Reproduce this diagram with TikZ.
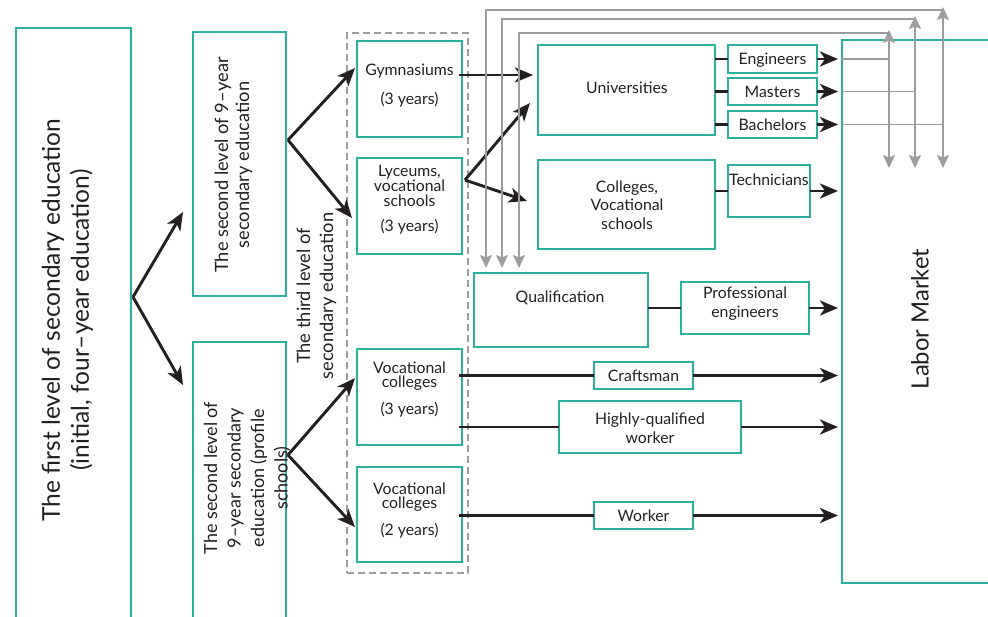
\documentclass[tikz,border=0pt]{standalone}
\usepackage{fontspec}
\setmainfont{Lato}
\usetikzlibrary{arrows.meta}
\definecolor{teal1}{RGB}{43,176,158}
\definecolor{ink}{HTML}{231F20}
\definecolor{grayl}{HTML}{9D9D9F}
\tikzset{
  box/.style={draw=teal1, line width=1.3pt, inner sep=0pt, outer sep=0pt},
  txt/.style={inner sep=0pt, text=ink, align=center, font=\fontsize{15.8pt}{14.6pt}\selectfont},
  arr/.style={draw=ink, line width=2.9pt, -{Stealth[length=18pt,width=15pt,inset=5pt]}},
  lnk/.style={draw=ink, line width=2.9pt},
  gline/.style={draw=grayl, line width=1.8pt},
  garr/.style={draw=grayl, line width=1.8pt, -{Stealth[length=13pt,width=12pt,inset=2.5pt]}},
  gdbl/.style={draw=grayl, line width=1.8pt, {Stealth[length=13pt,width=12pt,inset=2.5pt]}-{Stealth[length=13pt,width=12pt,inset=2.5pt]}},
}
\begin{document}
\begin{tikzpicture}[x=1pt,y=-1pt]
\useasboundingbox (0,0) rectangle (988,616);
\clip (0,0) rectangle (988,616);
% left boxes
\node[box, minimum width=115pt, minimum height=622pt] (first) at (73.5,339) {};
\node[txt, rotate=90, font=\fontsize{24.5pt}{29pt}\selectfont] (firstt) at (67.5,320) {The first level of secondary education\\(initial, four–year education)};
\node[box, minimum width=93pt, minimum height=264pt] (sec1) at (239.5,164) {};
\node[txt, rotate=90, font=\fontsize{18.3pt}{21pt}\selectfont] (sec1t) at (233.5,165) {The second level of 9–year\\secondary education};
\node[box, minimum width=93pt, minimum height=308pt] (sec2) at (239.5,496) {};
\node[txt, rotate=90, font=\fontsize{18pt}{23.5pt}\selectfont] (sec2t) at (247,478) {The second level of\\9–year secondary\\education (profile\\schools)};
\node[txt, rotate=90, font=\fontsize{18.3pt}{23pt}\selectfont] (thirdt) at (316.5,296) {The third level of\\secondary education};
% dashed group
\node[draw=grayl, line width=2pt, dash pattern=on 7pt off 4pt, minimum width=121pt, minimum height=540pt, inner sep=0pt] (grp) at (407.5,303) {};
\node[box, minimum width=105pt, minimum height=96pt] (gym) at (409.5,89) {};
\node[txt] (gymt) at (409.5,86) {Gymnasiums\\[13pt](3 years)};
\node[box, minimum width=105pt, minimum height=96pt] (lyc) at (409.5,206) {};
\node[txt] (lyct) at (409.5,200) {Lyceums,\\vocational\\schools\\[11pt](3 years)};
\node[box, minimum width=105pt, minimum height=96pt] (vc3) at (409.5,397) {};
\node[txt] (vc3t) at (409.5,389.5) {Vocational\\colleges\\[11pt](3 years)};
\node[box, minimum width=105pt, minimum height=95pt] (vc2) at (409.5,514.5) {};
\node[txt] (vc2t) at (409.5,510.5) {Vocational\\colleges\\[11pt](2 years)};
% middle
\node[box, minimum width=177pt, minimum height=90pt] (uni) at (626.5,90) {};
\node[txt] (unit) at (627,88) {Universities};
\node[box, minimum width=177pt, minimum height=89pt] (col) at (626.5,204.5) {};
\node[txt, font=\fontsize{15.8pt}{18.5pt}\selectfont] (colt) at (627,205) {Colleges,\\Vocational\\schools};
\node[box, minimum width=174pt, minimum height=74pt] (qual) at (561,310) {};
\node[txt] (qualt) at (560,298) {Qualification};
% right small boxes
\node[box, minimum width=89pt, minimum height=28pt] (eng) at (772.5,59) {};
\node[txt] (engt) at (772.5,60) {Engineers};
\node[box, minimum width=89pt, minimum height=27pt] (mas) at (772.5,91.5) {};
\node[txt] (mast) at (772.5,92) {Masters};
\node[box, minimum width=89pt, minimum height=27pt] (bac) at (772.5,124.5) {};
\node[txt] (bact) at (772.5,124.5) {Bachelors};
\node[box, minimum width=82pt, minimum height=52pt] (tech) at (769,191) {};
\node[txt] (techt) at (769,180) {Technicians};
\node[box, minimum width=128pt, minimum height=52pt] (prof) at (745,308) {};
\node[txt, font=\fontsize{15.8pt}{19pt}\selectfont] (proft) at (745,303.5) {Professional\\engineers};
\node[box, minimum width=99pt, minimum height=27pt] (craft) at (643.5,375.5) {};
\node[txt] (craftt) at (643.5,376) {Craftsman};
\node[box, minimum width=182pt, minimum height=52pt] (hq) at (650,427) {};
\node[txt, font=\fontsize{15.8pt}{19pt}\selectfont] (hqt) at (650,428.5) {Highly-qualified\\worker};
\node[box, minimum width=99pt, minimum height=27pt] (work) at (643.5,515.5) {};
\node[txt] (workt) at (643.5,516) {Worker};
% labor market
\node[box, minimum width=158pt, minimum height=543pt] (labor) at (921,311.5) {};
\node[txt, rotate=90, font=\fontsize{23.8pt}{25pt}\selectfont] (labort) at (920,319) {Labor Market};
% black arrows left
\coordinate (v1) at ([xshift=2pt,yshift=42pt]first.east);
\draw[arr] (v1) -- ([xshift=-10pt,yshift=-48pt]sec1.west);
\draw[arr] (v1) -- ([xshift=-10pt,yshift=111pt]sec2.west);
\coordinate (v2) at ([xshift=2pt,yshift=24pt]sec1.east);
\draw[arr] (v2) -- ([xshift=-2pt,yshift=21pt]gym.west);
\draw[arr] (v2) -- ([xshift=-5pt,yshift=-12pt]lyc.west);
\coordinate (v3) at ([xshift=2pt,yshift=41pt]sec2.east);
\draw[arr] (v3) -- ([xshift=-2pt,yshift=19pt]vc3.west);
\draw[arr] (v3) -- ([xshift=-2pt,yshift=-12.5pt]vc2.west);
\draw[arr] ([xshift=-3pt,yshift=14pt]gym.east) -- ([xshift=-5pt,yshift=15pt]uni.west);
\coordinate (v4) at ([xshift=3pt,yshift=26pt]lyc.east);
\draw[arr] (v4) -- ([xshift=-8pt,yshift=-13pt]uni.west);
\draw[arr] (v4) -- ([xshift=-11pt,yshift=3.5pt]col.west);
% links to right boxes
\draw[lnk] (eng.west -| uni.east) -- (eng.west);
\draw[lnk] (mas.west -| uni.east) -- (mas.west);
\draw[lnk] (bac.west -| uni.east) -- (bac.west);
\draw[lnk] (tech.west -| col.east) -- (tech.west);
\draw[lnk] (prof.west -| qual.east) -- (prof.west);
\draw[lnk] ([xshift=-3pt]craft.west -| vc3.east) -- (craft.west);
\draw[lnk] ([xshift=-3pt]hq.west -| vc3.east) -- (hq.west);
\draw[lnk] ([xshift=-3pt]work.west -| vc2.east) -- (work.west);
\foreach \b in {eng,mas,bac,tech,prof,craft,hq,work}
  \draw[arr, shorten >=4pt] (\b.east) -- (\b.east -| labor.west);
% gray feedback lines
\coordinate (gA) at (889,30);
\coordinate (gB) at (915,16);
\coordinate (gC) at (943,7);
\coordinate (gAb) at (889,168);
\coordinate (gBb) at (915,168);
\coordinate (gCb) at (943,168);
\draw[gdbl] (gA) -- (gAb);
\draw[gdbl] (gB) -- (gBb);
\draw[gdbl] (gC) -- (gCb);
\coordinate (qa) at ([xshift=12pt,yshift=5pt]qual.north west);
\coordinate (qb) at ([xshift=28pt,yshift=5pt]qual.north west);
\coordinate (qc) at ([xshift=45pt,yshift=5pt]qual.north west);
\draw[garr] ([yshift=-3pt]gC) -| (qa);
\draw[garr] ([yshift=-3pt]gB) -| (qb);
\draw[garr] ([yshift=-3pt]gA) -| (qc);
\draw[gline] (eng.east -| labor.west) -- (eng.east -| gA);
\draw[gline] (mas.east -| labor.west) -- (mas.east -| gB);
\draw[gline] (bac.east -| labor.west) -- (bac.east -| gC);
\end{tikzpicture}
\end{document}
